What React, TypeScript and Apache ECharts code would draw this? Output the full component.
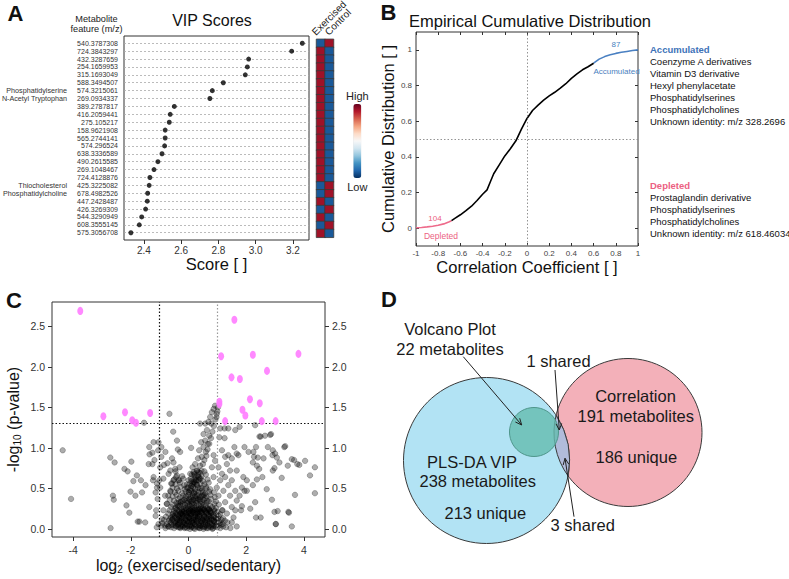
import React, { useEffect, useRef } from 'react';
import * as echarts from 'echarts';

const FONT = "'Liberation Sans', Arial, Helvetica, sans-serif";

// ---------- Panel A: VIP scores ----------
const mzLabels = ['540.3787308','724.3843297','432.3287659','254.1659953','315.1693049','588.3494507','574.3215061','269.0934337','389.2787817','416.2059441','275.105217','158.9621908','565.2744141','574.296524','638.3336589','490.2615585','269.1048467','724.4128876','425.3225082','678.4982526','447.2428487','426.3269309','544.3290949','608.3555145','575.3056708'];
const vipScores = [3.25,3.193,2.962,2.955,2.944,2.826,2.767,2.754,2.563,2.541,2.536,2.514,2.514,2.511,2.497,2.475,2.454,2.432,2.428,2.42,2.418,2.409,2.388,2.375,2.33];
const vipAnnotations = [
  { row: 6, text: 'Phosphatidylserine' },
  { row: 7, text: 'N-Acetyl Tryptophan' },
  { row: 18, text: 'Thiocholesterol' },
  { row: 19, text: 'Phosphatidylcholine' },
];
const vipTicks = [2.4, 2.6, 2.8, 3.0, 3.2];
const heatGroups = ['Exercised', 'Control'];
const heatExercised = [-0.85,0.85,0.85,0.85,0.85,0.85,0.85,0.85,0.85,0.85,0.85,0.85,0.85,0.85,0.85,0.85,0.85,0.85,-0.85,-0.85,0.85,-0.85,0.85,-0.85,0.85];
const heatControl = [0.85,-0.85,-0.85,-0.85,-0.85,-0.85,-0.85,-0.85,-0.85,-0.85,-0.85,-0.85,-0.85,-0.85,-0.85,-0.85,-0.85,-0.85,0.85,0.85,-0.85,0.85,-0.85,0.85,-0.85];

// ---------- Panel B: ECDF ----------
const ecdfX = [-1,-0.95,-0.9,-0.85,-0.8,-0.75,-0.7,-0.68,-0.65,-0.6,-0.55,-0.5,-0.45,-0.4,-0.36,-0.33,-0.3,-0.25,-0.2,-0.15,-0.1,-0.05,0,0.05,0.1,0.15,0.2,0.25,0.3,0.35,0.4,0.45,0.5,0.55,0.6,0.65,0.7,0.75,0.8,0.85,0.9,0.95,1];
const ecdfY = [0.002,0.004,0.007,0.011,0.016,0.024,0.036,0.042,0.055,0.075,0.098,0.123,0.155,0.19,0.215,0.26,0.305,0.355,0.405,0.445,0.49,0.555,0.615,0.66,0.69,0.718,0.742,0.762,0.785,0.81,0.84,0.865,0.888,0.905,0.925,0.948,0.962,0.972,0.98,0.986,0.991,0.996,1.0];
const depletedEnd = -0.68;
const accumulatedStart = 0.6;
const depletedCount = '104';
const accumulatedCount = '87';
const ecdfYTicks = [0, 0.2, 0.4, 0.6, 0.8, 1];
const accumulatedList = ['Coenzyme A derivatives','Vitamin D3 derivative','Hexyl phenylacetate','Phosphatidylserines','Phosphatidylcholines','Unknown identity: m/z 328.2696'];
const depletedList = ['Prostaglandin derivative','Phosphatidylserines','Phosphatidylcholines','Unknown identity: m/z 618.46034'];

// ---------- Panel C: volcano ----------
const volcXTicks = [-4, -2, 0, 2, 4];
const volcYTicks = [0, 0.5, 1, 1.5, 2, 2.5];
const volcanoSignificant = [
  [-3.75,2.69],[-2.95,1.39],[-2.2,1.44],[-1.95,1.34],[-1.82,1.31],[-1.33,1.43],
  [1.59,2.58],[1.13,2.13],[2.23,2.15],[3.81,2.16],[2.72,1.95],[1.49,1.87],[1.78,1.85],
  [1.07,1.57],[1.07,1.54],[2.13,1.6],[2.47,1.55],[1.87,1.47],[1.97,1.4],[1.27,1.33],[2.54,1.33],[3.02,1.33],
];
const volcanoGrayOuter = [
  [-4.36,0.97],[-4.07,0.37],[-2.71,0.88],[-2.56,0.82],[-2.7,0.01],[-2.62,0.41],[-2.59,0.36],[-2.22,0.74],[-2.11,0.71],[-1.98,0.83],
  [-1.91,0.59],[-1.79,0.66],[-1.65,0.6],[-1.49,0.54],[-2.01,0.46],[-1.84,0.41],[-1.61,0.45],[-2.15,0.29],[-2.05,0.2],[-1.76,0.09],
  [-1.7,0.09],[-1.5,0.08],[-1.36,0.27],[-1.54,1.31],[-0.66,1.42],[-0.53,1.2],[-1.36,1.01],[-1.21,1.07],[-1.04,1.07],[-1.35,0.92],
  [-1.25,0.94],[-1.05,0.97],[-0.94,1.01],[-0.8,0.95],[-1.18,0.85],[-0.94,0.89],[-0.73,0.81],[-1.25,0.8],[-0.98,0.76],[-0.85,0.79],
  [-0.4,1.09],[-0.37,0.98],[-0.29,0.95],[-0.57,0.87],[-0.52,0.82],[-0.63,0.72],[-0.69,0.68],[-0.31,0.76],[-0.46,0.74],[-1.21,0.64],
  [-1.23,0.6],[-1.14,0.45],[-1.09,0.56],[-1.01,0.6],[-0.87,0.62],[-0.98,0.51],[-1.07,0.37],[-1.12,0.23],[-1.14,0.16],[-1.04,0.06],
  [-0.92,0.12],[-0.81,0.04],[-0.69,0.03],[-0.87,0.23],[-0.75,0.31],[-0.81,0.41],[-0.63,0.47],[-0.52,0.6],[-0.43,0.64],[-0.57,0.56],
  [-0.35,0.6],[-1.38,0.8],[-1.09,0.51],
  [0.81,1.44],[0.87,1.48],[0.92,1.52],[0.75,1.38],[0.69,1.32],[0.58,1.3],[0.4,1.3],[0.79,1.3],[0.64,1.22],[0.52,1.17],
  [0.72,1.15],[0.58,1.09],[0.44,1.07],[0.67,1.05],[0.52,1.01],[0.09,1.0],[0.37,0.97],[0.6,0.95],[0.46,0.89],[0.33,0.87],
  [0.23,0.8],[0.4,0.78],[0.14,0.76],[0.29,0.72],[0.06,0.68],[0.21,0.66],[0.35,0.64],[0.0,0.6],[0.17,0.56],[-0.06,0.51],
  [1.25,1.24],[1.1,1.24],[1.38,1.24],[1.62,1.22],[1.77,1.26],[1.07,1.13],[1.25,1.12],[2.31,1.28],[2.5,1.14],[2.65,1.15],
  [2.86,1.17],[1.94,1.01],[1.59,1.01],[2.08,0.95],[2.25,0.95],[2.34,1.01],[2.75,1.01],[2.92,0.97],[3.32,1.01],[3.0,0.93],
  [1.67,0.93],[1.73,0.91],[2.27,0.89],[2.4,0.88],[2.91,0.91],[3.06,0.88],[3.15,0.82],[2.6,0.87],[2.23,0.82],[2.37,0.78],
  [2.45,0.74],[2.98,0.75],[2.92,0.72],[3.44,0.78],[3.66,0.85],[3.84,0.79],[4.04,0.84],[4.38,0.76],[4.21,0.66],[4.38,0.44],
  [3.69,0.42],[3.23,0.63],[2.56,0.64],[2.37,0.61],[2.71,0.49],[2.23,0.54],[2.02,0.47],[1.85,0.51],[1.94,0.47],[1.77,0.41],
  [2.89,0.36],[2.31,0.33],[2.14,0.25],[1.85,0.28],[1.82,0.23],[2.98,0.21],[3.09,0.22],[2.34,0.14],[2.5,0.14],[3.02,0.06],
  [3.48,0.2],[3.58,0.03],[1.67,0.03],[1.5,0.08],[1.56,0.14],[1.62,0.23],[1.67,0.35],[1.62,0.47],[1.5,0.6],[1.67,0.72],
  [1.44,0.72],[1.33,0.8],[1.27,0.89],[1.16,0.97],[1.38,0.91],[1.5,0.87],[1.9,0.64],[2.02,0.6],[1.27,0.64],[1.16,0.68],
  [1.04,0.76],[1.1,0.6],[1.38,0.54],[1.21,0.47],[1.44,0.41],[1.27,0.33],[1.5,0.27],[1.33,0.19],[1.16,0.23],[1.04,0.41],
  [0.98,0.51],[0.87,0.64],[0.81,0.76],[0.92,0.84],[0.87,0.91],[2.46,1.14],[2.83,1.16],[3.35,1.02],[3.58,0.86],[3.77,0.8],
  [3.46,0.21],[3.03,0.06],[1.0,1.45],[0.97,1.38],[1.02,1.5],
];
const volcanoGrayCore = [
  [-1.1,0.02],[-0.95,0.04],[-0.8,0.01],[-0.7,0.03],[-0.6,0.02],[-0.5,0.01],[-0.42,0.03],[-0.35,0.02],[-0.28,0.01],[-0.2,0.03],[-0.12,0.02],[-0.05,0.01],[0.02,0.03],[0.1,0.02],[0.18,0.01],[0.25,0.03],[0.33,0.02],[0.4,0.01],[0.48,0.03],[0.55,0.02],[0.63,0.01],[0.7,0.03],[0.78,0.02],[0.85,0.01],[0.93,0.03],[1.0,0.02],[1.1,0.01],[1.2,0.03],[1.3,0.02],[1.45,0.01],
  [-0.9,0.07],[-0.75,0.06],[-0.62,0.08],[-0.52,0.05],[-0.44,0.07],[-0.36,0.06],[-0.3,0.08],[-0.22,0.05],[-0.15,0.07],[-0.08,0.06],[0,0.08],[0.06,0.05],[0.14,0.07],[0.21,0.06],[0.29,0.08],[0.36,0.05],[0.44,0.07],[0.51,0.06],[0.59,0.08],[0.66,0.05],[0.74,0.07],[0.82,0.06],[0.9,0.08],[0.98,0.05],[1.08,0.07],[1.18,0.06],[1.35,0.08],
  [-0.85,0.11],[-0.68,0.1],[-0.55,0.12],[-0.46,0.09],[-0.38,0.11],[-0.31,0.1],[-0.24,0.12],[-0.17,0.09],[-0.1,0.11],[-0.03,0.1],[0.04,0.12],[0.11,0.09],[0.18,0.11],[0.26,0.1],[0.34,0.12],[0.41,0.09],[0.49,0.11],[0.57,0.1],[0.64,0.12],[0.72,0.09],[0.8,0.11],[0.88,0.1],[0.97,0.12],[1.06,0.09],[1.15,0.11],[1.26,0.1],
  [-0.78,0.15],[-0.6,0.14],[-0.48,0.16],[-0.4,0.13],[-0.33,0.15],[-0.26,0.14],[-0.19,0.16],[-0.12,0.13],[-0.05,0.15],[0.02,0.14],[0.09,0.16],[0.16,0.13],[0.24,0.15],[0.31,0.14],[0.39,0.16],[0.46,0.13],[0.54,0.15],[0.62,0.14],[0.7,0.16],[0.78,0.13],[0.87,0.15],[0.95,0.14],[1.05,0.16],[1.2,0.13],
  [-0.7,0.19],[-0.55,0.18],[-0.44,0.2],[-0.36,0.17],[-0.28,0.19],[-0.2,0.18],[-0.13,0.2],[-0.06,0.17],[0.01,0.19],[0.08,0.18],[0.15,0.2],[0.23,0.17],[0.3,0.19],[0.38,0.18],[0.45,0.2],[0.53,0.17],[0.61,0.19],[0.69,0.18],[0.77,0.2],[0.86,0.17],[0.96,0.19],[1.1,0.18],
  [-0.66,0.23],[-0.5,0.22],[-0.4,0.24],[-0.31,0.21],[-0.23,0.23],[-0.15,0.22],[-0.07,0.24],[0,0.21],[0.07,0.23],[0.14,0.22],[0.22,0.24],[0.29,0.21],[0.37,0.23],[0.44,0.22],[0.52,0.24],[0.6,0.21],[0.68,0.23],[0.77,0.22],[0.88,0.24],[1.0,0.21],[1.18,0.23],
  [-0.6,0.27],[-0.46,0.26],[-0.35,0.28],[-0.26,0.25],[-0.17,0.27],[-0.09,0.26],[-0.02,0.28],[0.05,0.25],[0.12,0.27],[0.2,0.26],[0.27,0.28],[0.35,0.25],[0.43,0.27],[0.51,0.26],[0.6,0.28],[0.7,0.25],[0.82,0.27],[0.95,0.26],
  [-0.75,0.31],[-0.55,0.3],[-0.42,0.32],[-0.3,0.29],[-0.2,0.31],[-0.12,0.3],[-0.04,0.32],[0.04,0.29],[0.11,0.31],[0.19,0.3],[0.27,0.32],[0.35,0.29],[0.44,0.31],[0.53,0.3],[0.63,0.32],[0.75,0.29],[0.9,0.31],[1.05,0.3],
  [-0.65,0.36],[-0.5,0.35],[-0.36,0.37],[-0.25,0.34],[-0.15,0.36],[-0.06,0.35],[0.03,0.37],[0.1,0.34],[0.17,0.36],[0.25,0.35],[0.33,0.37],[0.42,0.34],[0.52,0.36],[0.64,0.35],[0.78,0.37],[0.95,0.34],
  [-0.7,0.41],[-0.55,0.4],[-0.42,0.42],[-0.3,0.39],[-0.19,0.41],[-0.09,0.4],[0.0,0.42],[0.08,0.39],[0.15,0.41],[0.22,0.4],[0.3,0.42],[0.4,0.39],[0.5,0.41],[0.62,0.4],[0.76,0.42],[0.92,0.39],
  [-0.62,0.46],[-0.47,0.45],[-0.35,0.47],[-0.22,0.44],[-0.1,0.46],[0.02,0.45],[0.1,0.47],[0.18,0.44],[0.25,0.46],[0.35,0.45],[0.46,0.47],[0.58,0.44],[0.72,0.46],[0.88,0.45],
  [-0.55,0.51],[-0.4,0.5],[-0.27,0.52],[-0.13,0.49],[-0.02,0.51],[0.08,0.5],[0.16,0.52],[0.23,0.49],[0.33,0.51],[0.45,0.5],[0.6,0.52],[0.75,0.49],
  [-0.6,0.56],[-0.45,0.55],[-0.3,0.57],[-0.15,0.54],[0.05,0.56],[0.14,0.55],[0.22,0.57],[0.3,0.54],[0.42,0.56],[0.55,0.55],[0.7,0.57],
  [-0.5,0.61],[-0.32,0.6],[-0.18,0.62],[0.1,0.59],[0.2,0.61],[0.28,0.6],[0.38,0.62],[0.5,0.59],[0.66,0.61],
  [-0.4,0.66],[-0.22,0.65],[0.12,0.67],[0.25,0.64],[0.33,0.66],[0.45,0.65],[0.6,0.67],
  [-0.45,0.71],[0.18,0.7],[0.3,0.72],[0.4,0.69],[0.55,0.71],
  [-0.45,0.04],[-0.38,0.09],[-0.32,0.13],[-0.25,0.03],[-0.18,0.08],[-0.11,0.16],[-0.04,0.04],[0.03,0.09],[0.08,0.13],[0.13,0.03],[0.19,0.08],[0.27,0.12],[0.32,0.16],[0.38,0.04],[0.45,0.09],[0.52,0.13],[0.58,0.03],[0.65,0.08],[0.72,0.12],[0.79,0.16],[0.86,0.04],[0.92,0.09],
  [-0.41,0.18],[-0.33,0.22],[-0.24,0.19],[-0.16,0.24],[-0.08,0.2],[0.0,0.25],[0.06,0.2],[0.12,0.24],[0.19,0.2],[0.26,0.23],[0.33,0.2],[0.4,0.25],[0.48,0.2],[0.55,0.24],[0.63,0.2],[0.71,0.24],[0.8,0.2],[0.9,0.22],
  [-0.3,0.02],[-0.14,0.01],[0.05,0.0],[0.22,0.0],[0.37,0.01],[0.52,0.0],[0.68,0.01],[0.83,0.0],[-0.6,0.05],[-0.55,0.15],[-0.65,0.12],[1.02,0.13],[1.12,0.05],
  [-0.2,0.34],[0.0,0.33],[0.15,0.32],[0.3,0.35],[0.48,0.33],[0.58,0.38],[0.7,0.34],[-0.35,0.32],[0.36,0.41],[0.2,0.45],[0.05,0.48],[0.4,0.5],[0.28,0.55],[0.5,0.45],[0.62,0.5],
  [0.45,0.72],[0.5,0.8],[0.55,0.85],[0.62,0.9],[0.66,0.98],[0.72,1.05],[0.78,1.12],[0.83,1.2],[0.88,1.27],[0.93,1.35],[0.98,1.42],[0.35,0.7],[0.25,0.6],[0.42,0.62],
  [-0.35,0.05],[-0.27,0.1],[-0.21,0.14],[-0.14,0.05],[-0.07,0.1],[0.0,0.14],[0.05,0.04],[0.12,0.1],[0.17,0.15],[0.23,0.05],[0.3,0.1],[0.36,0.15],[0.42,0.04],[0.48,0.1],[0.55,0.15],[0.6,0.05],[0.67,0.1],[0.74,0.15],[0.8,0.04],[0.87,0.1],
  [-0.3,0.18],[-0.22,0.21],[-0.1,0.19],[0.03,0.22],[0.1,0.19],[0.17,0.23],[0.24,0.19],[0.31,0.24],[0.4,0.21],[0.47,0.24],[0.57,0.22],[0.65,0.25],[0.74,0.22],
  [-0.5,0.08],[-0.57,0.11],[-0.47,0.14],[-0.52,0.19],[-0.45,0.25],[-0.38,0.29],[-0.28,0.33],[-0.1,0.38],[0.06,0.35],[0.13,0.39],[0.26,0.38],[0.39,0.36],[0.45,0.4],[0.55,0.42],
  [0.0,0.45],[-0.05,0.55],[0.1,0.53],[0.18,0.58],[0.35,0.6],[0.08,0.62],[0.2,0.68],
];
const foldLines = [-1, 1];
const pThreshold = 1.3;

// ---------- Panel D: Venn ----------
const vennTexts = {
  volcano: ['Volcano Plot', '22 metabolites'],
  correlation: ['Correlation', '191 metabolites', '186 unique'],
  vip: ['PLS-DA VIP', '238 metabolites', '213 unique'],
  shared1: '1 shared',
  shared3: '3 shared',
};
const blueC = { cx: 486.5, cy: 460.5, r: 83 };
const pinkC = { cx: 628, cy: 432.5, r: 74 };
const greenC = { cx: 534, cy: 432, r: 24.5 };

function lensPath(a: any, b: any) {
  const dx = b.cx - a.cx, dy = b.cy - a.cy;
  const d = Math.hypot(dx, dy);
  const aa = (d * d + a.r * a.r - b.r * b.r) / (2 * d);
  const h = Math.sqrt(Math.max(0, a.r * a.r - aa * aa));
  const xm = a.cx + (aa * dx) / d, ym = a.cy + (aa * dy) / d;
  const p1 = [xm + (h * dy) / d, ym - (h * dx) / d];
  const p2 = [xm - (h * dy) / d, ym + (h * dx) / d];
  return `M${p1[0]} ${p1[1]} A${a.r} ${a.r} 0 0 1 ${p2[0]} ${p2[1]} A${b.r} ${b.r} 0 0 1 ${p1[0]} ${p1[1]} Z`;
}
let lensRegistered = false;
function ensureLens() {
  if (lensRegistered) return;
  echarts.graphic.registerShape('vennLens', echarts.graphic.extendPath(lensPath(blueC, pinkC), {}) as any);
  lensRegistered = true;
}

const fmtNum = (v: number) => String(parseFloat(Number(v).toFixed(2)));

function txt(text: string, x: number, y: number, o: any = {}) {
  return {
    type: 'text', x, y, silent: true, rotation: o.rot ?? 0, z: 60,
    style: {
      text, fontFamily: FONT, fontSize: o.size ?? 10, fill: o.color ?? '#111',
      fontWeight: o.weight ?? 'normal', align: o.align ?? 'left', verticalAlign: o.va ?? 'middle',
    },
  };
}
function arrow(x1: number, y1: number, x2: number, y2: number) {
  const ang = Math.atan2(y2 - y1, x2 - x1);
  const L = 7, a = 0.42;
  const h1 = [x2 - L * Math.cos(ang - a), y2 - L * Math.sin(ang - a)];
  const h2 = [x2 - L * Math.cos(ang + a), y2 - L * Math.sin(ang + a)];
  return [
    { type: 'line', silent: true, z: 55, shape: { x1, y1, x2, y2 }, style: { stroke: '#222', lineWidth: 1 } },
    { type: 'polyline', silent: true, z: 55, shape: { points: [h1, [x2, y2], h2] }, style: { stroke: '#222', lineWidth: 1, fill: null } },
  ];
}

function buildOption() {
  const heatData: any[] = [];
  mzLabels.forEach((_, i) => {
    heatData.push([0, i, heatExercised[i]]);
    heatData.push([1, i, heatControl[i]]);
  });
  const ecdfPts = ecdfX.map((x, i) => [x, ecdfY[i]]);
  const depleted = ecdfPts.filter((p) => p[0] <= depletedEnd);
  const middle = ecdfPts.filter((p) => p[0] >= depletedEnd && p[0] <= accumulatedStart);
  const accumulated = ecdfPts.filter((p) => p[0] >= accumulatedStart);

  const axisColor = '#333';
  const dotted = [1.5, 2];
  const noZero = { show: false, onZero: false };

  const graphics: any[] = [
    txt('A', 15.5, 13, { size: 22, weight: 'bold', align: 'center' }),
    txt('B', 388.5, 12, { size: 22, weight: 'bold', align: 'center' }),
    txt('C', 14, 300.5, { size: 22, weight: 'bold', align: 'center' }),
    txt('D', 389, 299, { size: 22, weight: 'bold', align: 'center' }),
    txt('Metabolite', 96.5, 19, { size: 9.2, align: 'center', color: '#222' }),
    txt('feature (m/z)', 96.5, 28.5, { size: 9.2, align: 'center', color: '#222' }),
    ...vipAnnotations.map((a) => txt(a.text, 67, 36 + ((a.row + 0.92) / 25.84) * 204, { size: 7.2, align: 'right', color: '#333' })),
    txt('VIP Scores', 212, 20, { size: 16, align: 'center' }),
    txt(heatGroups[0], 317, 37, { size: 10, rot: Math.PI / 4, color: '#222', va: 'bottom' }),
    txt(heatGroups[1], 330, 37, { size: 10, rot: Math.PI / 4, color: '#222', va: 'bottom' }),
    txt('Empirical Cumulative Distribution', 530, 21, { size: 16.5, align: 'center' }),
    txt(depletedCount, 435, 218, { size: 8, align: 'center', color: '#ec5f82' }),
    txt('Depleted', 441, 236, { size: 8.5, align: 'center', color: '#ec5f82' }),
    txt(accumulatedCount, 616, 44, { size: 8, align: 'center', color: '#4a7fc0' }),
    txt('Accumulated', 616.5, 71, { size: 8, align: 'center', color: '#4a7fc0' }),
    txt('Accumulated', 650, 49.3, { size: 9.5, weight: 'bold', color: '#3d72b8' }),
    ...accumulatedList.map((s, i) => txt(s, 650, 61.7 + i * 12, { size: 9.5, color: '#111' })),
    txt('Depleted', 650, 185, { size: 9.5, weight: 'bold', color: '#ec5f82' }),
    ...depletedList.map((s, i) => txt(s, 650, 197 + i * 12.1, { size: 9.5, color: '#111' })),
    { type: 'circle', silent: true, z: 30, shape: { cx: pinkC.cx, cy: pinkC.cy, r: pinkC.r }, style: { fill: '#f3b0b9', stroke: '#3a3a3a', lineWidth: 1 } },
    { type: 'circle', silent: true, z: 31, shape: { cx: blueC.cx, cy: blueC.cy, r: blueC.r }, style: { fill: '#b2e3f4', stroke: '#3a3a3a', lineWidth: 1 } },
    { type: 'vennLens', silent: true, z: 32, x: 0, y: 0, style: { fill: '#b1bcdb', stroke: '#3a3a3a', lineWidth: 1 } },
    { type: 'circle', silent: true, z: 33, shape: { cx: greenC.cx, cy: greenC.cy, r: greenC.r }, style: { fill: 'rgba(100,188,175,0.8)', stroke: '#4f968b', lineWidth: 1 } },
    txt(vennTexts.volcano[0], 450, 329, { size: 16.5, align: 'center', color: '#1a1a1a' }),
    txt(vennTexts.volcano[1], 450, 349, { size: 16.5, align: 'center', color: '#1a1a1a' }),
    txt(vennTexts.shared1, 558.5, 360.7, { size: 16.5, align: 'center', color: '#1a1a1a' }),
    txt(vennTexts.correlation[0], 635.5, 396, { size: 16.5, align: 'center', color: '#1a1a1a' }),
    txt(vennTexts.correlation[1], 635.7, 416, { size: 16.5, align: 'center', color: '#1a1a1a' }),
    txt(vennTexts.correlation[2], 636.3, 457.3, { size: 16.5, align: 'center', color: '#1a1a1a' }),
    txt(vennTexts.vip[0], 472, 461.7, { size: 16.5, align: 'center', color: '#1a1a1a' }),
    txt(vennTexts.vip[1], 477.7, 481, { size: 16.5, align: 'center', color: '#1a1a1a' }),
    txt(vennTexts.vip[2], 485.3, 513.3, { size: 16.5, align: 'center', color: '#1a1a1a' }),
    txt(vennTexts.shared3, 582.7, 525, { size: 16.5, align: 'center', color: '#1a1a1a' }),
    ...arrow(463.3, 356.7, 521.7, 425),
    ...arrow(555, 370, 559.3, 430),
    ...arrow(574, 516.7, 565, 458.3),
  ];

  return {
    animation: false,
    backgroundColor: '#fff',
    textStyle: { fontFamily: FONT },
    grid: [
      { left: 124, top: 36, width: 185, height: 204, show: true, borderColor: '#333', borderWidth: 1 },
      { left: 316.5, top: 39.3, width: 17, height: 198 },
      { left: 416, top: 32, width: 222, height: 214, show: true, borderColor: '#333', borderWidth: 1 },
      { left: 52, top: 302, width: 273, height: 235, show: true, borderColor: '#333', borderWidth: 1 },
    ],
    xAxis: [
      {
        gridIndex: 0, type: 'value', min: 2.293, max: 3.286,
        axisLine: noZero,
        axisTick: { show: true, customValues: vipTicks, length: 4, lineStyle: { color: axisColor } },
        axisLabel: { customValues: vipTicks, formatter: (v: number) => v.toFixed(1), fontSize: 10, color: '#333', margin: 5 },
        splitLine: { show: false },
        name: 'Score [ ]', nameLocation: 'middle', nameGap: 15,
        nameTextStyle: { fontSize: 16.5, color: '#111', fontFamily: FONT },
      },
      { gridIndex: 1, type: 'category', data: heatGroups, show: false },
      {
        gridIndex: 2, type: 'value', min: -1, max: 1, interval: 0.2,
        axisLine: noZero,
        axisTick: { inside: true, length: 3, lineStyle: { color: axisColor } },
        axisLabel: { fontSize: 8, color: '#444', margin: 3, formatter: fmtNum },
        splitLine: { show: false },
        name: 'Correlation Coefficient [ ]', nameLocation: 'middle', nameGap: 12,
        nameTextStyle: { fontSize: 16.5, color: '#111', fontFamily: FONT },
      },
      {
        gridIndex: 2, type: 'value', position: 'top', min: -1, max: 1, interval: 0.2,
        axisLine: noZero, axisLabel: { show: false },
        axisTick: { inside: true, length: 3, lineStyle: { color: axisColor } },
        splitLine: { show: false },
      },
      {
        gridIndex: 3, type: 'value', min: -4.73, max: 4.73,
        axisLine: noZero,
        axisTick: { customValues: volcXTicks, length: 4, lineStyle: { color: axisColor } },
        axisLabel: { customValues: volcXTicks, fontSize: 10.5, color: '#333', margin: 7 },
        splitLine: { show: false },
        name: 'log{s|2} (exercised/sedentary)', nameLocation: 'middle', nameGap: 20,
        nameTextStyle: {
          fontSize: 16, color: '#111', fontFamily: FONT,
          rich: { s: { fontSize: 10, fontFamily: FONT, color: '#111', padding: [7, 0, 0, 0] } },
        },
      },
    ],
    yAxis: [
      {
        gridIndex: 0, type: 'value', inverse: true, min: -0.92, max: 24.92,
        axisLine: noZero, axisTick: { show: false }, splitLine: { show: false },
        axisLabel: {
          customValues: mzLabels.map((_, i) => i),
          formatter: (v: number) => mzLabels[Math.round(v)] ?? '',
          fontSize: 7, color: '#333', margin: 6,
        },
      },
      { gridIndex: 1, type: 'category', data: mzLabels, inverse: true, show: false },
      {
        gridIndex: 2, type: 'value', min: -0.1, max: 1.1,
        axisLine: noZero,
        axisTick: { inside: true, length: 3, customValues: ecdfYTicks, lineStyle: { color: axisColor } },
        axisLabel: { customValues: ecdfYTicks, formatter: fmtNum, fontSize: 8, color: '#444', margin: 4 },
        splitLine: { show: false },
        name: 'Cumulative Distribution [ ]', nameLocation: 'middle', nameGap: 11,
        nameTextStyle: { fontSize: 16.5, color: '#111', fontFamily: FONT },
      },
      {
        gridIndex: 2, type: 'value', position: 'right', min: -0.1, max: 1.1,
        axisLine: noZero, axisLabel: { show: false },
        axisTick: { inside: true, length: 3, customValues: ecdfYTicks, lineStyle: { color: axisColor } },
        splitLine: { show: false },
      },
      {
        gridIndex: 3, type: 'value', min: -0.1, max: 2.8,
        axisLine: noZero,
        axisTick: { customValues: volcYTicks, length: 4, lineStyle: { color: axisColor } },
        axisLabel: { customValues: volcYTicks, formatter: (v: number) => v.toFixed(1), fontSize: 10.5, color: '#333', margin: 7 },
        splitLine: { show: false },
        name: '-log{s|10} (p-value)', nameLocation: 'middle', nameGap: 30,
        nameTextStyle: {
          fontSize: 16, color: '#111', fontFamily: FONT,
          rich: { s: { fontSize: 10, fontFamily: FONT, color: '#111', padding: [7, 0, 0, 0] } },
        },
      },
      {
        gridIndex: 3, type: 'value', position: 'right', min: -0.1, max: 2.8,
        axisLine: noZero,
        axisTick: { customValues: volcYTicks, length: 4, lineStyle: { color: axisColor } },
        axisLabel: { customValues: volcYTicks, formatter: (v: number) => v.toFixed(1), fontSize: 10.5, color: '#333', margin: 7 },
        splitLine: { show: false },
      },
    ],
    visualMap: [
      {
        type: 'continuous', seriesIndex: 1, min: -1, max: 1, calculable: false, hoverLink: false,
        orient: 'vertical', left: 346, top: 90, padding: 0, itemWidth: 8, itemHeight: 74, textGap: 3,
        text: ['High', 'Low'], textStyle: { fontSize: 11, color: '#222', fontFamily: FONT },
        inRange: { color: ['#053061','#2166ac','#4393c3','#92c5de','#d1e5f0','#f7f7f7','#fddbc7','#f4a582','#d6604d','#b2182b','#67001f'] },
      },
    ],
    series: [
      {
        type: 'scatter', xAxisIndex: 0, yAxisIndex: 0, silent: true, z: 5,
        data: vipScores.map((v, i) => [v, i]), symbolSize: 5, itemStyle: { color: '#000' },
        markLine: {
          silent: true, symbol: ['none', 'none'], label: { show: false },
          lineStyle: { color: '#aaa', type: [2, 2], width: 0.8 },
          data: mzLabels.map((_, i) => ({ yAxis: i })),
        },
      },
      {
        type: 'heatmap', xAxisIndex: 1, yAxisIndex: 1, silent: true, data: heatData,
        itemStyle: { borderColor: '#3a3a3a', borderWidth: 0.8 },
      },
      {
        type: 'line', xAxisIndex: 2, yAxisIndex: 2, silent: true, data: depleted, showSymbol: false,
        lineStyle: { color: '#ee6b8b', width: 1.6 },
      },
      {
        type: 'line', xAxisIndex: 2, yAxisIndex: 2, silent: true, data: middle, showSymbol: false, z: 4,
        lineStyle: { color: '#000', width: 1.6 },
        markLine: {
          silent: true, symbol: ['none', 'none'], label: { show: false },
          lineStyle: { color: '#888', type: dotted, width: 0.9 },
          data: [{ xAxis: 0 }, { yAxis: 0.5 }],
        },
      },
      {
        type: 'line', xAxisIndex: 2, yAxisIndex: 2, silent: true, data: accumulated, showSymbol: false,
        lineStyle: { color: '#4a80c2', width: 1.6 },
      },
      {
        type: 'scatter', xAxisIndex: 4, yAxisIndex: 4, silent: true,
        data: [...volcanoGrayCore, ...volcanoGrayOuter], symbolSize: 5.5,
        itemStyle: { color: 'rgba(0,0,0,0.4)', borderColor: 'rgba(0,0,0,0.5)', borderWidth: 0.6 },
        markLine: {
          silent: true, symbol: ['none', 'none'], label: { show: false },
          data: [
            { xAxis: foldLines[0], lineStyle: { color: '#111', type: dotted, width: 1.2 } },
            { xAxis: foldLines[1], lineStyle: { color: '#999', type: dotted, width: 1.2 } },
            { yAxis: pThreshold, lineStyle: { color: '#111', type: dotted, width: 1.2 } },
          ],
        },
      },
      {
        type: 'scatter', xAxisIndex: 4, yAxisIndex: 4, silent: true, z: 6,
        data: volcanoSignificant, symbolSize: [6, 8],
        itemStyle: { color: '#ff7cff', opacity: 0.9 },
      },
    ],
    graphic: { elements: graphics },
  };
}

export default function App() {
  const ref = useRef<HTMLDivElement>(null);
  useEffect(() => {
    if (!ref.current) return;
    ensureLens();
    const chart = echarts.init(ref.current, undefined, { renderer: 'svg', width: 789, height: 579 });
    chart.setOption(buildOption() as any);
    return () => chart.dispose();
  }, []);
  return (
    <div
      ref={ref}
      style={{ position: 'absolute', left: 0, top: 0, width: 789, height: 579, background: '#fff' }}
    />
  );
}
